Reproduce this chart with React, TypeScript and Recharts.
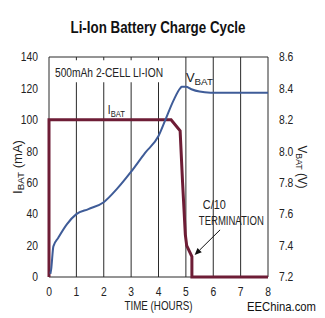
import {
  CartesianGrid,
  Line,
  LineChart,
  ReferenceArea,
  ReferenceDot,
  ReferenceLine,
  XAxis,
  YAxis,
} from "recharts";

const FONT = "'Liberation Sans', Arial, sans-serif";
const INK = "#222";

// charge current, mA vs hours
const currentHours = [0, 0, 4.46, 4.79, 4.88, 4.98, 5.03, 5.22, 5.22, 8];
const currentMa = [0, 100, 100, 93, 60, 27, 20, 13, 0, 0];

// battery voltage, V vs hours
const voltageHours = [0.05, 0.08, 0.16, 0.34, 0.65, 1.0, 1.44, 2.0, 2.49, 3.0, 3.51, 4.0, 4.24, 4.55, 4.79, 4.85, 5.0, 5.2, 5.5, 5.9, 6.5, 8];
const voltageV = [7.22, 7.25, 7.395, 7.45, 7.535, 7.6, 7.632, 7.676, 7.762, 7.87, 7.99, 8.097, 8.195, 8.324, 8.4, 8.41, 8.41, 8.395, 8.38, 8.373, 8.372, 8.372];

const hourTicks = [0, 1, 2, 3, 4, 5, 6, 7, 8];
const maTicks = [0, 20, 40, 60, 80, 100, 120, 140];
const voltTicks = [7.2, 7.4, 7.6, 7.8, 8.0, 8.2, 8.4, 8.6];

const currentData = currentHours.map((h, i) => ({ h, ma: currentMa[i] }));
const voltageData = voltageHours.map((h, i) => ({ h, v: voltageV[i] }));

// condensed tick text, like the narrow sans of the original
function NarrowTick({ x, y, payload, textAnchor, fmt, dyAdj = 0 }: any) {
  const label = fmt ? fmt(payload.value) : String(payload.value);
  return (
    <g transform={`translate(${x},${y + dyAdj}) scale(0.86,1)`}>
      <text x={0} y={0} dy="0.355em" textAnchor={textAnchor} fontFamily={FONT} fontSize={12} fill={INK}>
        {label}
      </text>
    </g>
  );
}

function Txt({ x, y, w, size = 12, children, anchor = "start", ...rest }: any) {
  return (
    <text
      x={x}
      y={y}
      fontFamily={FONT}
      fontSize={size}
      fill={INK}
      textAnchor={anchor}
      textLength={w}
      lengthAdjust="spacingAndGlyphs"
      {...rest}
    >
      {children}
    </text>
  );
}

function Sub({ x, y, main, w }: any) {
  return (
    <text x={x} y={y} fontFamily={FONT} fill={INK} fontSize={12} textLength={w} lengthAdjust="spacingAndGlyphs">
      {main}
      <tspan fontSize={9} dy={3}>BAT</tspan>
    </text>
  );
}

function SideLabel({ viewBox, main, unit, side, w }: any) {
  const { x, y, height } = viewBox;
  const cx = side === "left" ? x + 9 : x + 34;
  const cy = y + height / 2;
  const rot = side === "left" ? -90 : 90;
  return (
    <text
      x={cx}
      y={cy}
      transform={`rotate(${rot} ${cx} ${cy})`}
      textAnchor="middle"
      dominantBaseline="central"
      fontFamily={FONT}
      fontSize={12}
      fill={INK}
      textLength={w}
      lengthAdjust="spacingAndGlyphs"
    >
      {main}
      <tspan fontSize={9} dy={3}>BAT</tspan>
      <tspan dy={-3}> {unit}</tspan>
    </text>
  );
}

function TimeLabel({ viewBox }: any) {
  const { x, y, width } = viewBox;
  return (
    <Txt x={x + width / 2} y={y + 33} w={68} anchor="middle">
      TIME (HOURS)
    </Txt>
  );
}

function Arrow(props: any) {
  const { x1, y1, x2, y2 } = props;
  const a = Math.atan2(y2 - y1, x2 - x1);
  const len = 7;
  const w = 3;
  const bx = x2 - len * Math.cos(a);
  const by = y2 - len * Math.sin(a);
  const px = -Math.sin(a) * w;
  const py = Math.cos(a) * w;
  return (
    <g>
      <line x1={x1} y1={y1} x2={bx} y2={by} stroke="#111" strokeWidth={1} />
      <polygon points={`${x2},${y2} ${bx + px},${by + py} ${bx - px},${by - py}`} fill="#111" />
    </g>
  );
}

export default function App() {
  return (
    <div style={{ position: "absolute", left: 0, top: 0, width: 325, height: 318, background: "#fff" }}>
      <LineChart width={325} height={318} margin={{ top: 57, right: 17, bottom: 21, left: 9 }}>
        <CartesianGrid stroke="#2a2a2a" strokeWidth={1} />
        <XAxis
          type="number"
          dataKey="h"
          domain={[0, 8]}
          ticks={hourTicks}
          tick={<NarrowTick dyAdj={6} />}
          axisLine={false}
          tickLine={false}
          tickMargin={3}
          height={20}
          label={<TimeLabel />}
        />
        <YAxis
          yAxisId="ma"
          type="number"
          domain={[0, 140]}
          ticks={maTicks}
          tick={<NarrowTick />}
          axisLine={false}
          tickLine={false}
          tickMargin={5}
          width={40}
          label={<SideLabel main="I" unit="(mA)" side="left" w={54} />}
        />
        <YAxis
          yAxisId="v"
          orientation="right"
          type="number"
          domain={[7.2, 8.6]}
          ticks={voltTicks}
          tick={<NarrowTick fmt={(v: number) => v.toFixed(1)} />}
          axisLine={false}
          tickLine={false}
          tickMargin={5}
          width={40}
          label={<SideLabel main="V" unit="(V)" side="right" w={43} />}
        />
        <ReferenceArea yAxisId="ma" x1={0.05} x2={4.6} y1={124} y2={138} fill="#fff" fillOpacity={1} stroke="none" />
        <ReferenceDot
          yAxisId="ma"
          x={0.22}
          y={127}
          r={0}
          ifOverflow="visible"
          shape={(p: any) => (
            <Txt x={p.cx} y={p.cy} w={108}>
              500mAh 2-CELL LI-ION
            </Txt>
          )}
        />
        <ReferenceDot
          yAxisId="ma"
          x={2.15}
          y={104}
          r={0}
          ifOverflow="visible"
          shape={(p: any) => <Sub x={p.cx} y={p.cy} main="I" w={17} />}
        />
        <ReferenceDot
          yAxisId="ma"
          x={5.0}
          y={124}
          r={0}
          ifOverflow="visible"
          shape={(p: any) => <Sub x={p.cx} y={p.cy} main="V" w={27} />}
        />
        <ReferenceDot
          yAxisId="ma"
          x={5.4}
          y={43}
          r={0}
          ifOverflow="visible"
          shape={(p: any) => (
            <g>
              <Txt x={p.cx + 6} y={p.cy} w={23}>
                C/10
              </Txt>
              <Txt x={p.cx + 2} y={p.cy + 16} w={65}>
                TERMINATION
              </Txt>
            </g>
          )}
        />
        <ReferenceLine
          yAxisId="ma"
          segment={[
            { x: 6.25, y: 30 },
            { x: 5.32, y: 14 },
          ]}
          ifOverflow="visible"
          shape={Arrow}
        />
        <Line
          yAxisId="ma"
          data={currentData}
          dataKey="ma"
          type="linear"
          stroke="#6e1d36"
          strokeWidth={3}
          dot={false}
          isAnimationActive={false}
        />
        <Line
          yAxisId="v"
          data={voltageData}
          dataKey="v"
          type="monotone"
          stroke="#3f5c98"
          strokeWidth={2}
          dot={false}
          isAnimationActive={false}
        />
      </LineChart>
      <svg width={325} height={318} style={{ position: "absolute", left: 0, top: 0, pointerEvents: "none" }}>
        <Txt x={158} y={33} w={175} size={17} fontWeight="bold" anchor="middle" fill="#111">
          Li-Ion Battery Charge Cycle
        </Txt>
        <Txt x={247} y={311} w={69} size={13} fill="#111">
          EEChina.com
        </Txt>
      </svg>
    </div>
  );
}
